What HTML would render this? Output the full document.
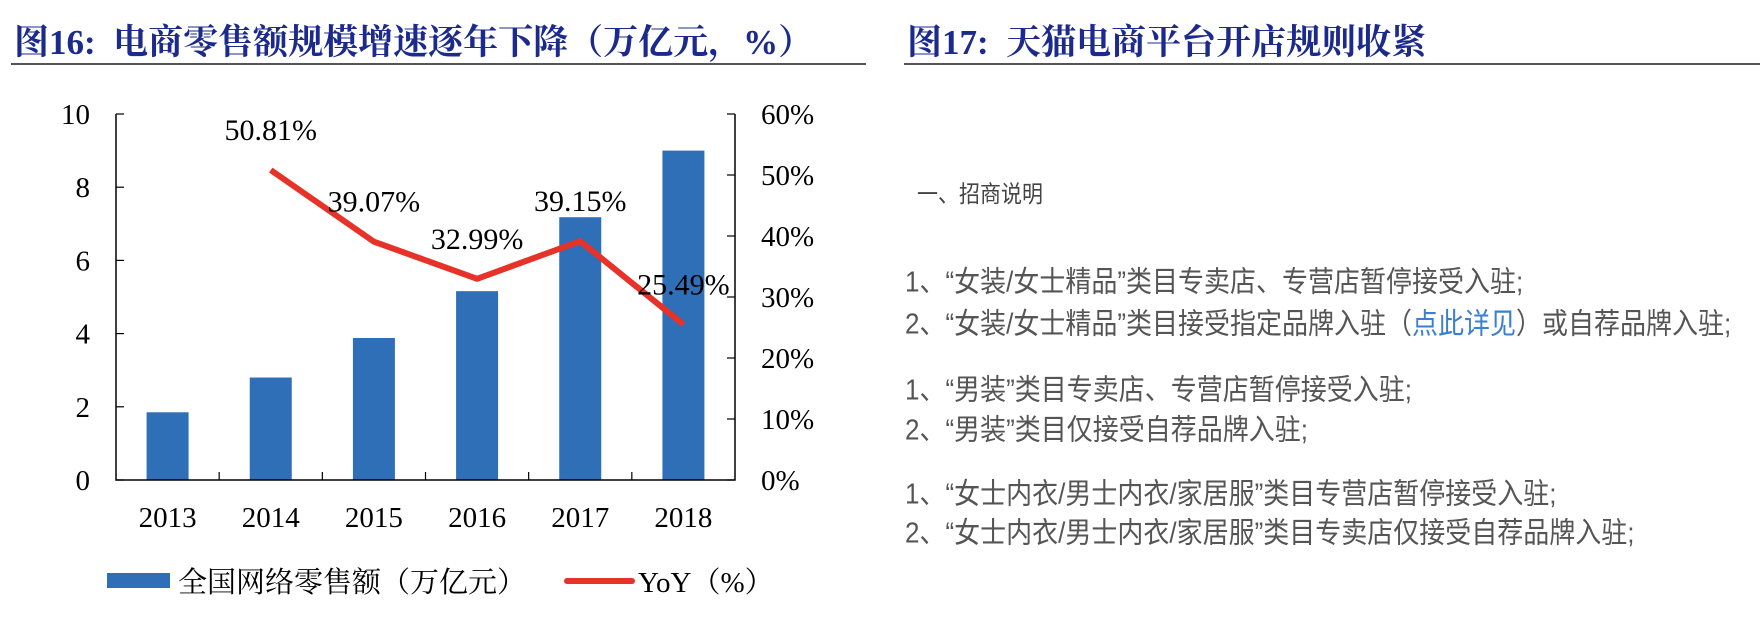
<!DOCTYPE html>
<html><head><meta charset="utf-8">
<style>
html,body{margin:0;padding:0;background:#fff;}
body{width:1760px;height:630px;position:relative;overflow:hidden;}
.title{position:absolute;top:15px;font-family:"Liberation Serif","Noto Serif CJK SC",serif;font-weight:bold;font-size:35px;color:#1b2a8c;white-space:nowrap;}
.rule{position:absolute;top:63px;height:2px;background:#555;}
.rt{position:absolute;font-family:"Liberation Sans","Noto Sans CJK SC",sans-serif;color:#555;white-space:nowrap;font-size:26px;transform:scaleY(1.12);transform-origin:0 50%;}
</style></head><body>
<div class="title" style="left:14px;">图16:&nbsp; 电商零售额规模增速逐年下降（万亿元，%）</div>
<div class="rule" style="left:11px;width:855px;"></div>
<div class="title" style="left:907px;">图17:&nbsp; 天猫电商平台开店规则收紧</div>
<div class="rule" style="left:904px;width:856px;"></div>

<svg id="chart" width="880" height="630" style="position:absolute;left:0;top:0;font-family:'Liberation Serif','Noto Serif CJK SC',serif;"></svg>

<div class="rt" style="left:917px;top:178px;font-size:21px;color:#444;">一、招商说明</div>
<div class="rt" style="left:905px;top:261px;">1、“女装/女士精品”类目专卖店、专营店暂停接受入驻;</div>
<div class="rt" style="left:905px;top:303px;">2、“女装/女士精品”类目接受指定品牌入驻（<span style="color:#3a7fd0;">点此详见</span>）或自荐品牌入驻;</div>
<div class="rt" style="left:905px;top:369px;">1、“男装”类目专卖店、专营店暂停接受入驻;</div>
<div class="rt" style="left:905px;top:409px;">2、“男装”类目仅接受自荐品牌入驻;</div>
<div class="rt" style="left:905px;top:473px;">1、“女士内衣/男士内衣/家居服”类目专营店暂停接受入驻;</div>
<div class="rt" style="left:905px;top:512px;">2、“女士内衣/男士内衣/家居服”类目专卖店仅接受自荐品牌入驻;</div>

<script>
const categories=["2013","2014","2015","2016","2017","2018"];
const salesValues=[1.85,2.8,3.88,5.16,7.18,9.0];
const yoyValues=[null,50.81,39.07,32.99,39.15,25.49];
const leftTicks=[0,2,4,6,8,10];
const rightTicks=[0,10,20,30,40,50,60];

const svg=document.getElementById('chart');
const NS='http://www.w3.org/2000/svg';
const X0=116,X1=735,Y0=480,Y1=114;
const band=(X1-X0)/categories.length;
const xc=i=>X0+band*(i+0.5);
const yL=v=>Y0-(v/10)*(Y0-Y1);
const yR=v=>Y0-(v/60)*(Y0-Y1);
function mk(tag,attrs,parent){const e=document.createElementNS(NS,tag);for(const k in attrs)e.setAttribute(k,attrs[k]);(parent||svg).appendChild(e);return e;}

categories.forEach((c,i)=>{
  const b=mk('rect',{x:xc(i)-21,y:yL(salesValues[i]),width:42,height:Y0-yL(salesValues[i]),fill:'#2e6fb8'});
  
  
});
const ax=mk('path',{d:`M${X0} ${Y1}V${Y0}H${X1}V${Y1}`,stroke:'#000','stroke-width':1.5,fill:'none'});


leftTicks.forEach(v=>{
  mk('line',{x1:X0,x2:X0+8,y1:yL(v),y2:yL(v),stroke:'#000','stroke-width':1.2});
  const t=mk('text',{x:90,y:yL(v)+10,'text-anchor':'end','font-size':29});
  t.textContent=v;
  
  
});
rightTicks.forEach(v=>{
  mk('line',{x1:X1-8,x2:X1,y1:yR(v),y2:yR(v),stroke:'#000','stroke-width':1.2});
  const t=mk('text',{x:761,y:yR(v)+10,'font-size':29});
  t.textContent=v+'%';
  
  
});
for(let i=1;i<categories.length;i++){mk('line',{x1:X0+band*i,x2:X0+band*i,y1:Y0,y2:Y0-8,stroke:'#000','stroke-width':1.2});}
categories.forEach((c,i)=>{
  const t=mk('text',{x:xc(i),y:527,'text-anchor':'middle','font-size':29});
  t.textContent=c;
  
  
});
let d='';
yoyValues.forEach((v,i)=>{if(v==null)return;d+=(d?'L':'M')+xc(i)+' '+yR(v);});
const ln=mk('path',{d:d,stroke:'#e63228','stroke-width':6,fill:'none','stroke-linejoin':'round'});


yoyValues.forEach((v,i)=>{
  if(v==null)return;
  const t=mk('text',{x:xc(i),y:yR(v)-30,'text-anchor':'middle','font-size':30});
  t.textContent=v.toFixed(2)+'%';
  
  
});
const lr=mk('rect',{x:107,y:573,width:63,height:15,fill:'#2e6fb8'});


const lt=mk('text',{x:178,y:592,'font-size':29});
lt.textContent='全国网络零售额（万亿元）';


const ll=mk('line',{x1:567,x2:632,y1:581,y2:581,stroke:'#e63228','stroke-width':6,'stroke-linecap':'round'});


const lt2=mk('text',{x:638,y:592,'font-size':29});
lt2.textContent='YoY（%）';


</script>
</body></html>
